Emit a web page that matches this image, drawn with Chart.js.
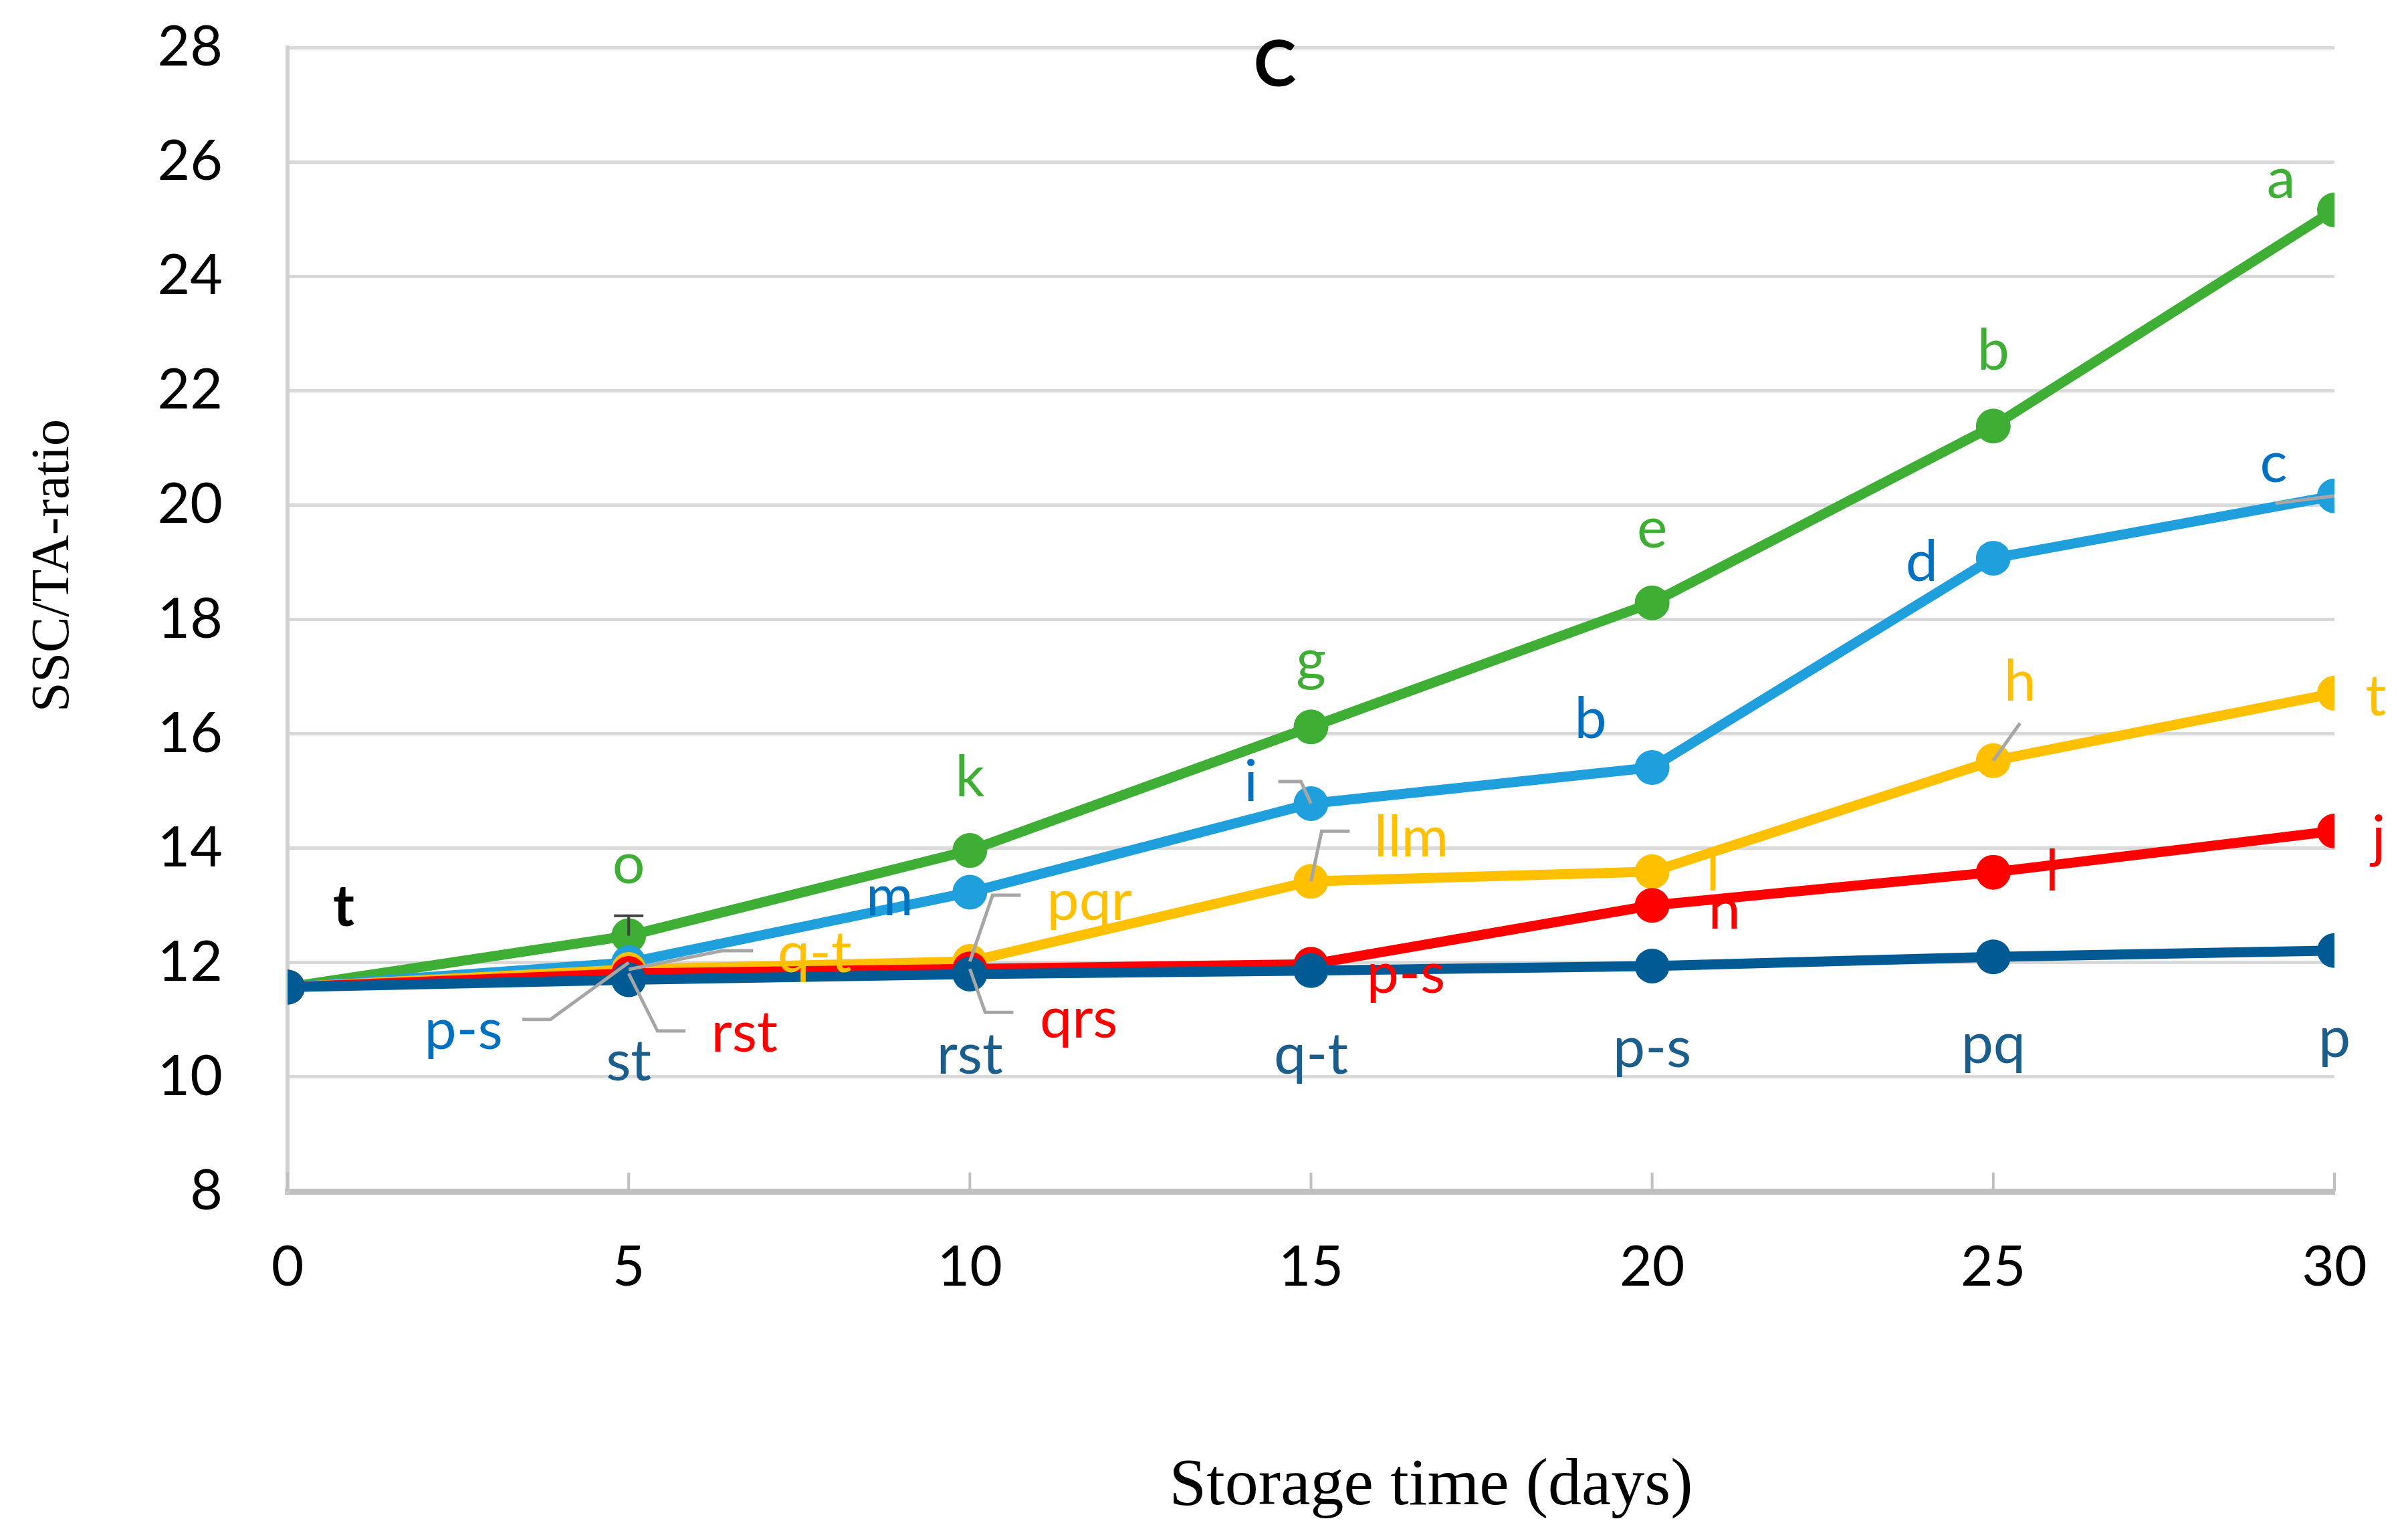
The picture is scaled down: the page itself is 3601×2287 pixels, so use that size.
<!DOCTYPE html>
<html>
<head>
<meta charset="utf-8">
<script src="https://cdn.jsdelivr.net/npm/chart.js@4/dist/chart.umd.min.js"></script>
<style>
  html, body { margin: 0; padding: 0; background: #fff; }
  #chart { display: block; }
</style>
</head>
<body>
<canvas id="chart" width="3601" height="2287" style="width:3601px;height:2287px"></canvas>
<script>
// values
const days = [0, 5, 10, 15, 20, 25, 30];
const yTicks = [8, 10, 12, 14, 16, 18, 20, 22, 24, 26, 28];

const greenVals = [11.57, 12.47, 13.96, 16.12, 18.29, 21.38, 25.16];
const lightBlueVals = [11.57, 12.0, 13.23, 14.78, 15.41, 19.07, 20.16];
const yellowVals = [11.57, 11.88, 12.02, 13.42, 13.59, 15.53, 16.71];
const redVals = [11.57, 11.81, 11.89, 11.97, 13.0, 13.58, 14.3];
const darkBlueVals = [11.57, 11.7, 11.8, 11.86, 11.94, 12.1, 12.21];
const greenErr = [0, 0.35, 0, 0, 0, 0, 0];

// significance letters
const greenLetters = ["", "o", "k", "g", "e", "b", "a"];
const lightBlueLetters = ["", "p-s", "m", "i", "b", "d", "c"];
const yellowLetters = ["", "q-t", "pqr", "llm", "l", "h", "t"];
const redLetters = ["", "rst", "qrs", "p-s", "n", "l", "j"];
const darkBlueLetters = ["", "st", "rst", "q-t", "p-s", "pq", "p"];
const dayZeroLetter = "t";

// label placement (px from the point) and leader lines
const greenPos = [null, [0, -106], [0, -109], [0, -99], [0, -110], [0, -112], [-80, -46]];
const lightBluePos = [null, [-247, 101], [-120, 7], [-90, -32], [-92, -72], [-107, 6], [-91, -48]];
const lightBlueLead = [null, [[0, 0], [-117, 85], [-159, 85]], null, [[0, 0], [-15, -33], [-49, -33]], null, null, [[0, 0], [-88, 11]]];
const yellowPos = [null, [278, -24], [179, -90], [150, -65], [91, 0], [40, -118], [62, 5]];
const yellowLead = [null, [[0, 0], [140, -28], [186, -28]], [[0, 0], [34, -99], [76, -99]], [[0, 0], [16, -75], [58, -75]], null, [[0, 0], [40, -56]], null];
const redPos = [null, [173, 89], [163, 75], [142, 15], [108, 7], [88, 0], [66, 10]];
const redLead = [null, [[0, 0], [43, 86], [85, 86]], [[0, 0], [23, 65], [65, 65]], null, null, null, null];
const darkBluePos = [null, [0, 123], [0, 121], [0, 126], [0, 123], [0, 131], [0, 131]];

const GREEN = "#3eae35";
const LIGHTBLUE = "#1f9fdc";
const YELLOW = "#ffc000";
const RED = "#ff0000";
const DARKBLUE = "#005a94";

const series = [
  { vals: greenVals, letters: greenLetters, pos: greenPos, lead: [], color: GREEN },
  { vals: lightBlueVals, letters: lightBlueLetters, pos: lightBluePos, lead: lightBlueLead, color: "#0070c0" },
  { vals: yellowVals, letters: yellowLetters, pos: yellowPos, lead: yellowLead, color: YELLOW },
  { vals: redVals, letters: redLetters, pos: redPos, lead: redLead, color: RED },
  { vals: darkBlueVals, letters: darkBlueLetters, pos: darkBluePos, lead: [], color: "#1b5e8c" },
];

function makeSet(vals, color) {
  return {
    data: days.map((d, i) => ({ x: d, y: vals[i] })),
    borderColor: color,
    backgroundColor: color,
    borderWidth: 15,
    pointRadius: 26,
    pointBorderWidth: 0,
    tension: 0,
  };
}

const annotations = {
  id: "annotations",
  beforeDatasetsDraw(chart) {
    const ctx = chart.ctx;
    const xs = chart.scales.x;
    const ys = chart.scales.y;
    ctx.save();
    ctx.strokeStyle = "#c0c0c0";
    ctx.lineWidth = 4;
    days.forEach((d) => {
      const px = xs.getPixelForValue(d);
      ctx.beginPath();
      ctx.moveTo(px, ys.bottom);
      ctx.lineTo(px, ys.bottom - 28);
      ctx.stroke();
    });
    ctx.restore();
  },
  afterDatasetsDraw(chart) {
    const ctx = chart.ctx;
    const xs = chart.scales.x;
    const ys = chart.scales.y;
    ctx.save();

    // error bar
    greenVals.forEach((v, i) => {
      if (!greenErr[i]) return;
      const px = xs.getPixelForValue(days[i]);
      const top = ys.getPixelForValue(v + greenErr[i]);
      ctx.strokeStyle = "#404040";
      ctx.lineWidth = 4;
      ctx.beginPath();
      ctx.moveTo(px, ys.getPixelForValue(v));
      ctx.lineTo(px, top);
      ctx.moveTo(px - 22, top);
      ctx.lineTo(px + 22, top);
      ctx.stroke();
    });

    ctx.textAlign = "center";
    ctx.textBaseline = "middle";
    ctx.font = "86px Lato";
    series.forEach((s) => {
      s.vals.forEach((v, i) => {
        const letter = s.letters[i];
        if (!letter) return;
        const px = xs.getPixelForValue(days[i]);
        const py = ys.getPixelForValue(v);
        const lead = s.lead[i];
        if (lead) {
          ctx.strokeStyle = "#a6a6a6";
          ctx.lineWidth = 5;
          ctx.beginPath();
          lead.forEach((p, k) => {
            if (k === 0) ctx.moveTo(px + p[0], py + p[1]);
            else ctx.lineTo(px + p[0], py + p[1]);
          });
          ctx.stroke();
        }
        ctx.fillStyle = s.color;
        ctx.fillText(letter, px + s.pos[i][0], py + s.pos[i][1]);
      });
    });

    // shared letter at day 0
    ctx.fillStyle = "#000";
    ctx.font = "bold 86px Lato";
    ctx.fillText(dayZeroLetter, xs.getPixelForValue(days[0]) + 84, ys.getPixelForValue(darkBlueVals[0]) - 119);

    // panel letter
    ctx.font = "bold 96px Lato";
    ctx.fillText("C", xs.getPixelForValue(14.47), ys.getPixelForValue(27.68));
    ctx.restore();
  },
  afterDraw(chart) {
    const ctx = chart.ctx;
    ctx.save();
    ctx.fillStyle = "#000";
    ctx.textAlign = "center";
    ctx.textBaseline = "middle";
    ctx.font = "100px 'Liberation Serif'";
    ctx.fillText("Storage time (days)", 2140, 2224);
    ctx.translate(81, 846);
    ctx.rotate(-Math.PI / 2);
    ctx.font = "80px 'Liberation Serif'";
    ctx.fillText("SSC/TA-ratio", 0, 0);
    ctx.restore();
  },
};

new Chart(document.getElementById("chart"), {
  type: "line",
  data: {
    datasets: [
      makeSet(darkBlueVals, DARKBLUE),
      makeSet(redVals, RED),
      makeSet(yellowVals, YELLOW),
      makeSet(lightBlueVals, LIGHTBLUE),
      makeSet(greenVals, GREEN),
    ],
  },
  options: {
    responsive: false,
    devicePixelRatio: 1,
    animation: false,
    layout: { padding: { top: 71, right: 110, left: 0, bottom: 0 } },
    plugins: { legend: { display: false }, tooltip: { enabled: false } },
    scales: {
      x: {
        type: "linear",
        min: 0,
        max: 30,
        afterFit: (scale) => { scale.height = 505; },
        afterBuildTicks: (scale) => { scale.ticks = days.map((d) => ({ value: d })); },
        // invisible tick marks give the label gap (ticks.padding would also pad the plot)
        grid: { drawOnChartArea: false, drawTicks: true, tickLength: 64, tickColor: "rgba(0,0,0,0)" },
        border: { display: true, color: "#c0c0c0", width: 9 },
        ticks: { color: "#000", font: { family: "Lato", size: 84 }, padding: 0, maxRotation: 0 },
      },
      y: {
        min: 8,
        max: 28,
        afterFit: (scale) => { scale.width = 430; },
        afterBuildTicks: (scale) => { scale.ticks = yTicks.map((v) => ({ value: v })); },
        grid: { color: "#d9d9d9", lineWidth: 5, drawTicks: true, tickLength: 97, tickColor: "rgba(0,0,0,0)" },
        border: { display: true, color: "#d0d0d0", width: 6 },
        ticks: { color: "#000", font: { family: "Lato", size: 84 }, padding: 0 },
      },
    },
  },
  plugins: [annotations],
});
</script>
</body>
</html>
